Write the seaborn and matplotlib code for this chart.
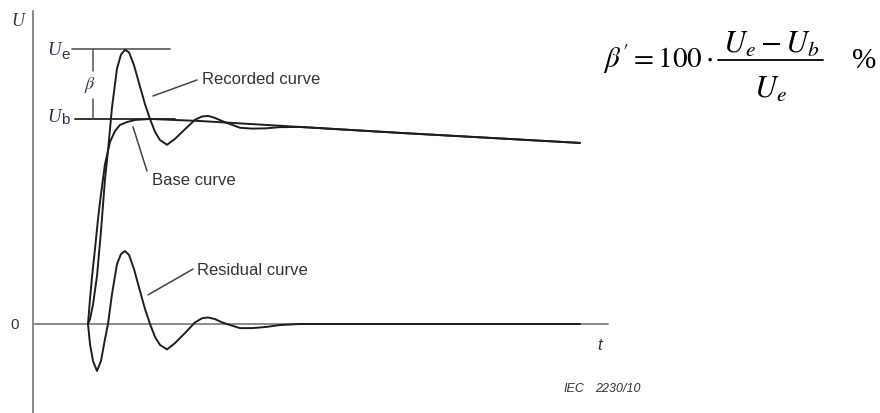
import numpy as np
import pandas as pd
import matplotlib
matplotlib.use("Agg")
import matplotlib.pyplot as plt
import seaborn as sns

# values: time t (arbitrary units), voltage U (Ub = 1)
t_base = [0, 0.2, 0.4, 0.7, 1.0, 1.3, 1.7, 2.2, 2.7, 3.2, 3.9, 4.7, 6.2,
          11.2, 21.2, 31.2, 41.2, 49.2]
u_base = [0, 0.122, 0.229, 0.366, 0.512, 0.634, 0.780, 0.888, 0.941, 0.971,
          0.985, 0.995, 1.0, 0.990, 0.961, 0.932, 0.905, 0.883]

t_rec = [0, 0.2, 0.5, 0.9, 1.3, 1.7, 2.0, 2.4, 2.9, 3.3, 3.7, 4.1, 4.6, 5.2,
         5.7, 6.2, 6.7, 7.2, 7.9, 8.7, 9.7, 10.7, 11.4, 12.0, 12.7, 13.4,
         14.2, 15.2, 16.4, 17.7, 19.2, 21.2, 31.2, 41.2, 49.2]
u_rec = [0, 0.024, 0.095, 0.234, 0.454, 0.707, 0.845, 1.056, 1.246, 1.314,
         1.337, 1.325, 1.262, 1.158, 1.072, 1.0, 0.937, 0.897, 0.874, 0.903,
         0.950, 0.996, 1.012, 1.015, 1.005, 0.990, 0.975, 0.957, 0.953, 0.954,
         0.960, 0.961, 0.932, 0.905, 0.883]

t_res = [0, 0.2, 0.5, 0.9, 1.3, 1.7, 2.0, 2.4, 2.9, 3.3, 3.7, 4.1, 4.6, 5.2,
         5.7, 6.2, 6.7, 7.2, 7.9, 8.7, 9.7, 10.7, 11.4, 12.0, 12.7, 13.4,
         14.2, 15.2, 16.4, 17.7, 19.2, 21.2, 31.2, 41.2, 49.2]
u_res = [0, -0.098, -0.180, -0.229, -0.180, -0.073, 0, 0.146, 0.293, 0.341,
         0.356, 0.337, 0.268, 0.161, 0.073, 0, -0.063, -0.102, -0.124, -0.093,
         -0.044, 0.008, 0.028, 0.032, 0.024, 0.008, -0.005, -0.020, -0.020,
         -0.015, -0.005, 0, 0, 0, 0]

U_e = 1.341
U_b = 1.0

curve_labels = ["Recorded curve", "Base curve", "Residual curve"]

sns.set_style("white")
plt.rcParams["font.family"] = ["Liberation Sans", "DejaVu Sans"]
plt.rcParams["mathtext.fontset"] = "stix"

fig = plt.figure(figsize=(8.8, 4.14), dpi=100)
ax = fig.add_axes([0, 0, 1, 1])
ax.set_xlim(-8.8, 79.2)
ax.set_ylim(-0.434, 1.585)
ax.axis("off")

axis_col = "#8a8a8a"
ink = "#1e1e1e"
lab_col = "#2b3550"
serif_it = dict(family="Liberation Serif", style="italic")

# axes drawn as plain lines
ax.plot([-5.5, -5.5], [-0.434, 1.527], color=axis_col, lw=1.4)
ax.plot([-5.5, 52.0], [0, 0], color=axis_col, lw=1.4)

# reference levels Ue and Ub
ax.plot([-1.6, 8.2], [U_e, U_e], color="#555555", lw=1.2)
ax.plot([-1.3, 8.7], [U_b, U_b], color="#333333", lw=1.4)
ax.plot([0.5, 0.5], [U_e, 1.234], color="#555555", lw=1.1)
ax.plot([0.5, 0.5], [1.098, U_b], color="#555555", lw=1.1)
ax.text(0.2, 1.171, r"$\beta$", fontsize=13, color=lab_col, ha="center", va="center")

df_rec = pd.DataFrame({"t": t_rec, "U": u_rec})
df_base = pd.DataFrame({"t": t_base, "U": u_base})
df_res = pd.DataFrame({"t": t_res, "U": u_res})
for d in [df_base, df_rec, df_res]:
    sns.lineplot(data=d, x="t", y="U", ax=ax, color=ink, lw=1.4,
                 estimator=None, sort=False)

# labels with leader lines
ax.plot([6.5, 10.9], [1.112, 1.190], color="#444444", lw=1.1)
ax.text(11.4, 1.195, curve_labels[0], fontsize=12, color="#333333", va="center")
ax.plot([4.5, 5.9], [0.961, 0.746], color="#444444", lw=1.1)
ax.text(6.4, 0.707, curve_labels[1], fontsize=12, color="#333333", va="center")
ax.plot([6.0, 10.5], [0.142, 0.268], color="#444444", lw=1.1)
ax.text(10.9, 0.268, curve_labels[2], fontsize=12, color="#333333", va="center")

# axis texts
ax.text(-7.0, 1.478, "U", fontsize=13, color=lab_col, ha="center", va="center", **serif_it)
ax.text(-2.7, 1.317, "U", fontsize=13.5, color=lab_col, ha="right", va="baseline", **serif_it)
ax.text(-2.7, 1.298, "e", fontsize=11, color=lab_col, ha="left", va="baseline")
ax.text(-2.7, 0.990, "U", fontsize=13.5, color=lab_col, ha="right", va="baseline", **serif_it)
ax.text(-2.7, 0.980, "b", fontsize=11, color=lab_col, ha="left", va="baseline")
ax.text(-7.3, 0, "0", fontsize=11, color=lab_col, ha="center", va="center")
ax.text(51.2, -0.098, "t", fontsize=12, style="italic", color="#333333", ha="center", va="center")
ax.text(47.5, -0.312, "IEC", fontsize=9, style="italic",
        color="#333333", ha="left", va="center")
ax.text(50.7, -0.312, "2230/10", fontsize=9, style="italic",
        color="#333333", ha="left", va="center")

# formula, built from pieces so the fraction keeps full size
ax.text(51.5, 1.254, r"$\beta' = 100\cdot$", fontsize=21, color="black",
        ha="left", va="baseline")
ax.text(68.35, 1.328, r"$U_e - U_b$", fontsize=22, color="black",
        ha="center", va="baseline")
ax.plot([63.0, 73.5], [1.288, 1.288], color="black", lw=1.3)
ax.text(68.2, 1.107, r"$U_e$", fontsize=22, color="black",
        ha="center", va="baseline")
ax.text(76.4, 1.254, "%", fontsize=21, color="black", family="Liberation Serif",
        ha="left", va="baseline")

fig.savefig("out.png", dpi=100)
